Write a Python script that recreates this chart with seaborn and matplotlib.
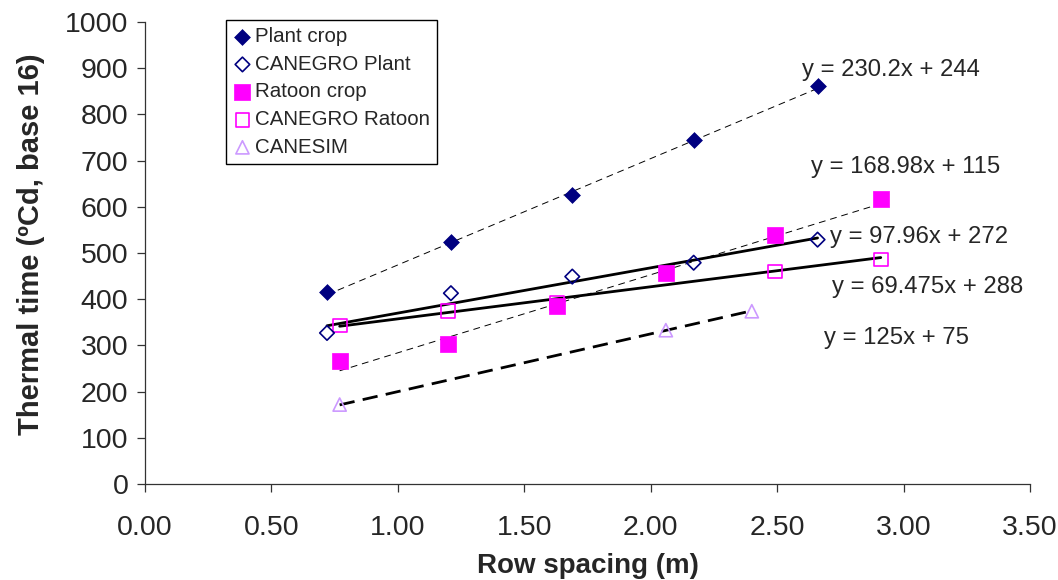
import numpy as np
import matplotlib
matplotlib.use("Agg")
import matplotlib.pyplot as plt
import seaborn as sns

# row spacing (m) and thermal time (degCd, base 16)
plant_x = [0.72, 1.21, 1.69, 2.17, 2.66]
plant_y = [415, 523, 626, 745, 862]
canegro_plant_x = [0.72, 1.21, 1.69, 2.17, 2.66]
canegro_plant_y = [327, 413, 449, 479, 529]
ratoon_x = [0.77, 1.20, 1.63, 2.06, 2.49, 2.91]
ratoon_y = [267, 304, 385, 457, 539, 618]
canegro_ratoon_x = [0.77, 1.20, 1.63, 2.49, 2.91]
canegro_ratoon_y = [343, 374, 392, 460, 486]
canesim_x = [0.77, 2.06, 2.40]
canesim_y = [172, 333, 374]

# linear trendline coefficients as printed on the chart
plant_fit = (230.2, 244)
ratoon_fit = (168.98, 115)
canegro_plant_fit = (97.96, 272)
canegro_ratoon_fit = (69.475, 288)
canesim_fit = (125, 75)

x_ticks = [0.0, 0.5, 1.0, 1.5, 2.0, 2.5, 3.0, 3.5]
y_ticks = [0, 100, 200, 300, 400, 500, 600, 700, 800, 900, 1000]

NAVY = "#000080"
MAGENTA = "#FF00FF"
LAVENDER = "#CC99FF"

sns.set_theme(style="ticks")
plt.rcParams["font.family"] = ["Liberation Sans", "DejaVu Sans"]

fig = plt.figure(figsize=(10.58, 5.8), dpi=100)
ax = fig.add_axes([0.137, 0.1655, 0.8365, 0.7965])


def trend(ax, xs, fit, **kw):
    xe = np.array([min(xs), max(xs)])
    ax.plot(xe, fit[0] * xe + fit[1], color="black", **kw)


# trendlines
trend(ax, plant_x, plant_fit, lw=0.7, dashes=(7, 5))
trend(ax, ratoon_x, ratoon_fit, lw=0.7, dashes=(7, 5))
trend(ax, canegro_plant_x, canegro_plant_fit, lw=2)
trend(ax, canegro_ratoon_x, canegro_ratoon_fit, lw=2)
trend(ax, canesim_x, canesim_fit, lw=2, dashes=(5.5, 3))

# points
sns.scatterplot(x=plant_x, y=plant_y, marker="D", s=65, color=NAVY,
                edgecolor=NAVY, linewidth=0.5, label="Plant crop", ax=ax, zorder=3)
sns.scatterplot(x=canegro_plant_x, y=canegro_plant_y, marker="D", s=55,
                facecolors="none", edgecolors=NAVY, linewidth=1.2,
                label="CANEGRO Plant", ax=ax, zorder=3)
sns.scatterplot(x=ratoon_x, y=ratoon_y, marker="s", s=120, color=MAGENTA,
                edgecolor=MAGENTA, linewidth=0.5, label="Ratoon crop", ax=ax, zorder=3)
sns.scatterplot(x=canegro_ratoon_x, y=canegro_ratoon_y, marker="s", s=100,
                facecolors="none", edgecolors=MAGENTA, linewidth=1.2,
                label="CANEGRO Ratoon", ax=ax, zorder=2)
sns.scatterplot(x=canesim_x, y=canesim_y, marker="^", s=90,
                facecolors="none", edgecolors=LAVENDER, linewidth=1.2,
                label="CANESIM", ax=ax, zorder=3)

# equation labels
eq_fs = 17.2
ax.text(2.60, 896, "y = 230.2x + 244", fontsize=eq_fs, va="center")
ax.text(2.634, 686, "y = 168.98x + 115", fontsize=eq_fs, va="center")
ax.text(2.71, 535, "y = 97.96x + 272", fontsize=eq_fs, va="center")
ax.text(2.716, 426, "y = 69.475x + 288", fontsize=eq_fs, va="center")
ax.text(2.685, 316, "y = 125x + 75", fontsize=eq_fs, va="center")

ax.set_xlim(0, 3.5)
ax.set_ylim(0, 1000)
ax.set_xticks(x_ticks)
ax.set_xticklabels([f"{v:.2f}" for v in x_ticks])
ax.set_yticks(y_ticks)
ax.tick_params(labelsize=20.5, length=6, width=0.9, color="#333333", pad=6)
ax.tick_params(axis="x", pad=16)
for side in ["left", "bottom"]:
    ax.spines[side].set_color("#333333")
    ax.spines[side].set_linewidth(0.9)
sns.despine(ax=ax)

ax.set_xlabel("Row spacing (m)", fontsize=20, fontweight="bold", labelpad=9)
ax.set_ylabel("Thermal time (\u00baCd, base 16)", fontsize=21, fontweight="bold")
ax.yaxis.set_label_coords(-0.113, 0.52)

leg = ax.legend(loc="upper left", bbox_to_anchor=(226 / 1058, 1 - 20 / 580),
                bbox_transform=fig.transFigure, fontsize=14.8, frameon=True,
                fancybox=False, edgecolor="black", framealpha=1,
                handletextpad=0.15, handlelength=0.9, labelspacing=0.42,
                borderpad=0.35, borderaxespad=0)
leg.get_frame().set_linewidth(1.0)

fig.savefig("out.png", dpi=100)
